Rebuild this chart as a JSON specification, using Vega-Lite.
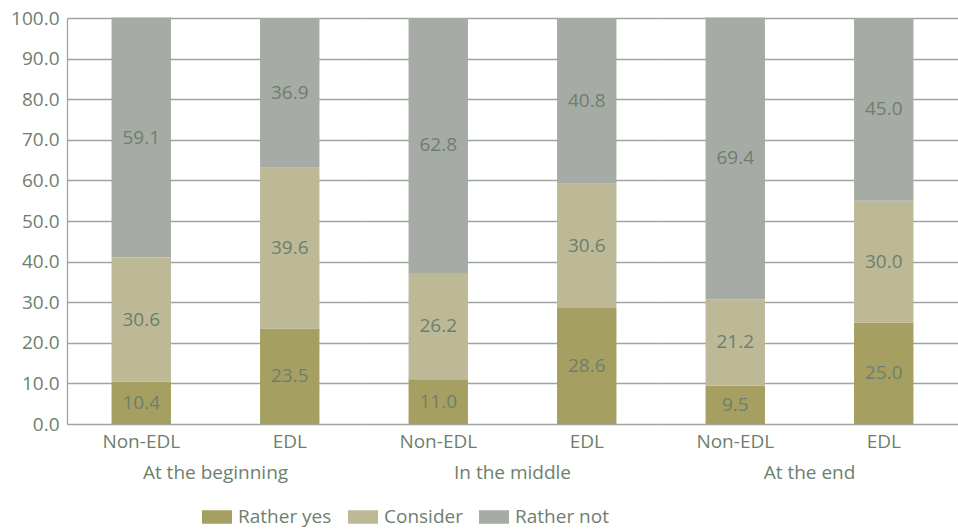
{
  "$schema": "https://vega.github.io/schema/vega-lite/v6.json",
  "padding": {"left": 10, "top": 9, "right": 0, "bottom": 44},
  "background": "white",
  "spacing": 0,
  "config": {
    "font": "Open Sans",
    "view": {"stroke": null},
    "axis": {"labelFont": "Open Sans", "labelFontSize": 19, "labelColor": "#6d7f6d"},
    "legend": {"labelFont": "Open Sans"}
  },
  "data": {
    "values": [
      {"group": "At the beginning", "type": "Non-EDL", "answer": "Rather yes", "value": 10.4},
      {"group": "At the beginning", "type": "Non-EDL", "answer": "Consider", "value": 30.6},
      {"group": "At the beginning", "type": "Non-EDL", "answer": "Rather not", "value": 59.1},
      {"group": "At the beginning", "type": "EDL", "answer": "Rather yes", "value": 23.5},
      {"group": "At the beginning", "type": "EDL", "answer": "Consider", "value": 39.6},
      {"group": "At the beginning", "type": "EDL", "answer": "Rather not", "value": 36.9},
      {"group": "In the middle", "type": "Non-EDL", "answer": "Rather yes", "value": 11.0},
      {"group": "In the middle", "type": "Non-EDL", "answer": "Consider", "value": 26.2},
      {"group": "In the middle", "type": "Non-EDL", "answer": "Rather not", "value": 62.8},
      {"group": "In the middle", "type": "EDL", "answer": "Rather yes", "value": 28.6},
      {"group": "In the middle", "type": "EDL", "answer": "Consider", "value": 30.6},
      {"group": "In the middle", "type": "EDL", "answer": "Rather not", "value": 40.8},
      {"group": "At the end", "type": "Non-EDL", "answer": "Rather yes", "value": 9.5},
      {"group": "At the end", "type": "Non-EDL", "answer": "Consider", "value": 21.2},
      {"group": "At the end", "type": "Non-EDL", "answer": "Rather not", "value": 69.4},
      {"group": "At the end", "type": "EDL", "answer": "Rather yes", "value": 25.0},
      {"group": "At the end", "type": "EDL", "answer": "Consider", "value": 30.0},
      {"group": "At the end", "type": "EDL", "answer": "Rather not", "value": 45.0}
    ]
  },
  "transform": [
    {"calculate": "indexof(['Rather yes','Consider','Rather not'], datum.answer)", "as": "order"},
    {"stack": "value", "groupby": ["group", "type"], "sort": [{"field": "order", "order": "ascending"}], "as": ["v0", "v1"]},
    {"calculate": "(datum.v0 + datum.v1) / 2", "as": "vmid"}
  ],
  "facet": {
    "column": {
      "field": "group",
      "type": "nominal",
      "sort": ["At the beginning", "In the middle", "At the end"],
      "title": null,
      "header": {"labelOrient": "bottom", "labelFont": "Open Sans", "labelFontSize": 19, "labelColor": "#6d7f6d", "labelPadding": 13}
    }
  },
  "spec": {
    "width": 297,
    "height": 406,
    "encoding": {
      "x": {
        "field": "type",
        "type": "nominal",
        "sort": ["Non-EDL", "EDL"],
        "scale": {"paddingInner": 0.6, "paddingOuter": 0.3},
        "axis": {"title": null, "labelAngle": 0, "ticks": false, "domain": false, "labelPadding": 8}
      }
    },
    "layer": [
      {
        "mark": {"type": "bar"},
        "encoding": {
          "y": {
            "field": "v0",
            "type": "quantitative",
            "scale": {"domain": [0, 100], "nice": false},
            "axis": {
              "title": null,
              "values": [0, 10, 20, 30, 40, 50, 60, 70, 80, 90, 100],
              "format": ".1f",
              "ticks": false,
              "labelPadding": 8,
              "grid": true,
              "gridColor": "#9aa79a",
              "gridWidth": 1.3,
              "domainColor": "#9aa79a",
              "domainWidth": 1.3
            }
          },
          "y2": {"field": "v1"},
          "color": {
            "field": "answer",
            "type": "nominal",
            "scale": {"domain": ["Rather yes", "Consider", "Rather not"], "range": ["#a59f61", "#bdb996", "#a6aca5"]},
            "legend": {
              "title": null,
              "orient": "none",
              "direction": "horizontal",
              "legendX": 135,
              "legendY": 484,
              "symbolType": "M-1,-0.45H1V0.45H-1Z",
              "symbolSize": 900,
              "symbolStrokeWidth": 0,
              "symbolOpacity": 1,
              "labelFontSize": 19,
              "labelColor": "#6d7f6d",
              "labelOffset": 6,
              "columnPadding": 16
            }
          }
        }
      },
      {
        "mark": {"type": "text", "fontSize": 19, "color": "#6d7f6d"},
        "encoding": {
          "y": {"field": "vmid", "type": "quantitative"},
          "text": {"field": "value", "type": "quantitative", "format": ".1f"}
        }
      }
    ]
  }
}
